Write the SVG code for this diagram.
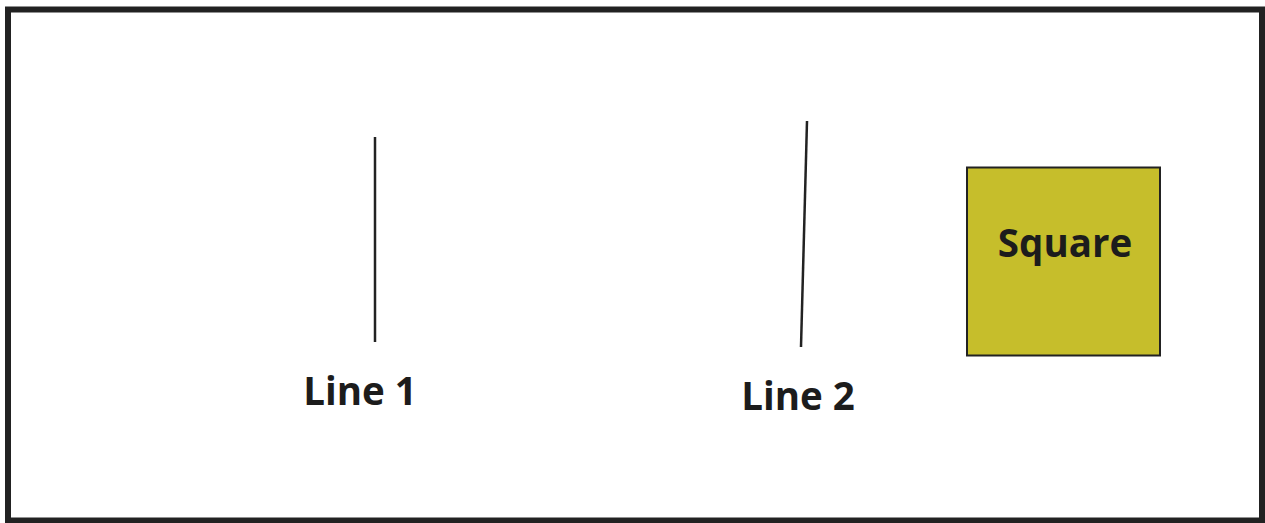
<svg xmlns="http://www.w3.org/2000/svg" width="1265" height="523" viewBox="0 0 1265 523">
  <style>
    .lbl { font-family: "Open Sans", "Liberation Sans", sans-serif; font-weight: 700; font-size: 38.5px; fill: #1c1c1c; text-anchor: middle; }
    .ln { stroke: #222; stroke-width: 2.5; stroke-linecap: butt; }
  </style>
  <rect x="0" y="0" width="1265" height="523" fill="#ffffff"/>
  <rect id="frame" x="8" y="9.5" width="1254" height="511" fill="none" stroke="#222" stroke-width="6"/>
  <g id="line1">
    <line class="ln" x1="375" y1="137" x2="375" y2="342"/>
    <text class="lbl" x="360" y="405">Line 1</text>
  </g>
  <g id="line2">
    <line class="ln" x1="807" y1="121" x2="801" y2="347"/>
    <text class="lbl" x="798" y="410">Line 2</text>
  </g>
  <g id="square">
    <rect x="967" y="167.5" width="193" height="188" fill="#c6be2b" stroke="#222" stroke-width="2"/>
    <text class="lbl" x="1065" y="257">Square</text>
  </g>
  <g id="connectors"></g>
</svg>
